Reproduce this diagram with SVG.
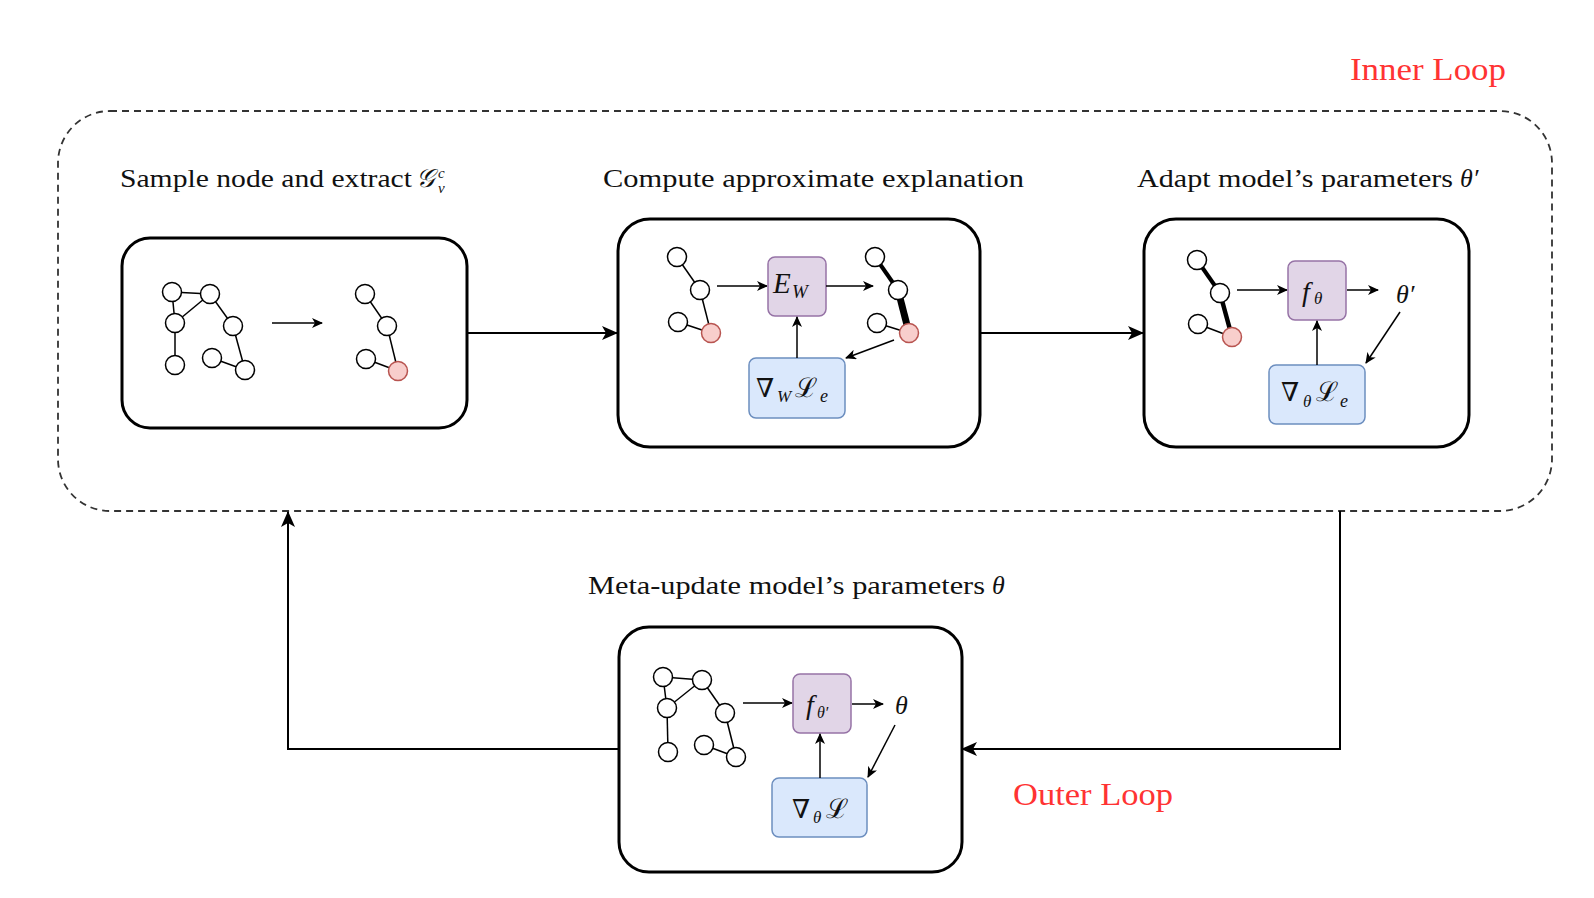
<svg xmlns="http://www.w3.org/2000/svg" width="1594" height="898" viewBox="0 0 1594 898">
<style>
.title{font-family:"Liberation Serif","DejaVu Serif",serif;font-size:25px;fill:#111}
.math{font-family:"Liberation Serif","DejaVu Serif",serif;font-style:italic;fill:#111}
.sym{font-family:"DejaVu Serif","Liberation Serif",serif;fill:#111}
.loop{font-family:"Liberation Serif","DejaVu Serif",serif;font-size:32px;fill:#ff3333}
.panel{fill:#fff;stroke:#000;stroke-width:3}
.gn{fill:#fff;stroke:#000;stroke-width:1.5}
.rn{fill:#f8cecc;stroke:#b85450;stroke-width:1.5}
.ge{stroke:#000;stroke-width:1.5;fill:none}
.purple{fill:#e1d5e7;stroke:#9673a6;stroke-width:1.5}
.blue{fill:#dae8fc;stroke:#6c8ebf;stroke-width:1.5}
.conn{stroke:#000;stroke-width:2;fill:none}
.arr{stroke:#000;stroke-width:1.5;fill:none}
</style>
<defs>
<marker id="big" viewBox="0 0 16 14" refX="15" refY="7" markerWidth="16" markerHeight="14" markerUnits="userSpaceOnUse" orient="auto">
<path d="M0,0 L16,7 L0,14 L4,7 z" fill="#000"/>
</marker>
<marker id="small" viewBox="0 0 11 10" refX="10" refY="5" markerWidth="11" markerHeight="10" markerUnits="userSpaceOnUse" orient="auto">
<path d="M0,0 L11,5 L0,10 L3,5 z" fill="#000"/>
</marker>
</defs>
<rect width="1594" height="898" fill="#fff"/>

<g id="inner-loop">
<rect x="58" y="111" width="1494" height="400" rx="52" ry="52" fill="none" stroke="#333" stroke-width="1.8" stroke-dasharray="7 5"/>
<text class="loop" x="1350" y="80" textLength="156" lengthAdjust="spacingAndGlyphs">Inner Loop</text>
</g>

<g id="connectors">
<line class="conn" x1="467" y1="333" x2="617" y2="333" marker-end="url(#big)"/>
<line class="conn" x1="980" y1="333" x2="1143" y2="333" marker-end="url(#big)"/>
<polyline class="conn" points="1340,511 1340,749 962,749" marker-end="url(#big)"/>
<polyline class="conn" points="619,749 288,749 288,512" marker-end="url(#big)"/>
</g>

<g id="sample-node">
<text class="title" x="120" y="187" textLength="292" lengthAdjust="spacingAndGlyphs">Sample node and extract</text>
<text class="math" x="416" y="187" font-size="26">𝒢</text>
<text class="math" x="438" y="178" font-size="15">c</text>
<text class="math" x="438" y="193" font-size="15">v</text>
<rect class="panel" x="122" y="238" width="345" height="190" rx="28"/>
<g>
<line class="ge" x1="172" y1="292" x2="210" y2="294"/>
<line class="ge" x1="172" y1="292" x2="175" y2="323"/>
<line class="ge" x1="175" y1="323" x2="210" y2="294"/>
<line class="ge" x1="210" y1="294" x2="233" y2="326"/>
<line class="ge" x1="175" y1="323" x2="175" y2="365"/>
<line class="ge" x1="233" y1="326" x2="245" y2="370"/>
<line class="ge" x1="212" y1="358" x2="245" y2="370"/>
<circle class="gn" cx="172" cy="292" r="9.5"/>
<circle class="gn" cx="210" cy="294" r="9.5"/>
<circle class="gn" cx="175" cy="323" r="9.5"/>
<circle class="gn" cx="233" cy="326" r="9.5"/>
<circle class="gn" cx="175" cy="365" r="9.5"/>
<circle class="gn" cx="212" cy="358" r="9.5"/>
<circle class="gn" cx="245" cy="370" r="9.5"/>
</g>
<line class="arr" x1="272" y1="323" x2="322" y2="323" marker-end="url(#small)"/>
<g>
<line class="ge" x1="365" y1="294" x2="387" y2="326"/>
<line class="ge" x1="387" y1="326" x2="398" y2="371"/>
<line class="ge" x1="366" y1="359" x2="398" y2="371"/>
<circle class="gn" cx="365" cy="294" r="9.5"/>
<circle class="gn" cx="387" cy="326" r="9.5"/>
<circle class="gn" cx="366" cy="359" r="9.5"/>
<circle class="rn" cx="398" cy="371" r="9.5"/>
</g>
</g>

<g id="compute-explanation">
<text class="title" x="603" y="187" textLength="421" lengthAdjust="spacingAndGlyphs">Compute approximate explanation</text>
<rect class="panel" x="618" y="219" width="362" height="228" rx="32"/>
<g>
<line class="ge" x1="677" y1="257" x2="700" y2="290"/>
<line class="ge" x1="700" y1="290" x2="711" y2="333"/>
<line class="ge" x1="678" y1="322" x2="711" y2="333"/>
<circle class="gn" cx="677" cy="257" r="9.5"/>
<circle class="gn" cx="700" cy="290" r="9.5"/>
<circle class="gn" cx="678" cy="322" r="9.5"/>
<circle class="rn" cx="711" cy="333" r="9.5"/>
</g>
<line class="arr" x1="717" y1="286" x2="767" y2="286" marker-end="url(#small)"/>
<rect class="purple" x="768" y="257" width="58" height="59" rx="7"/>
<text class="math" x="773" y="293" font-size="29">E</text>
<text class="math" x="792" y="298" font-size="19">W</text>
<line class="arr" x1="826" y1="286" x2="873" y2="286" marker-end="url(#small)"/>
<g>
<line class="ge" x1="875" y1="257" x2="898" y2="290" style="stroke-width:4"/>
<line class="ge" x1="898" y1="290" x2="909" y2="333" style="stroke-width:7"/>
<line class="ge" x1="877" y1="323" x2="909" y2="333"/>
<circle class="gn" cx="875" cy="257" r="9.5"/>
<circle class="gn" cx="898" cy="290" r="9.5"/>
<circle class="gn" cx="877" cy="323" r="9.5"/>
<circle class="rn" cx="909" cy="333" r="9.5"/>
</g>
<line class="arr" x1="894" y1="340" x2="846" y2="358" marker-end="url(#small)"/>
<rect class="blue" x="749" y="358" width="96" height="60" rx="7"/>
<text class="sym" x="756" y="397" font-size="26">∇</text>
<text class="math" x="777" y="402" font-size="17">W</text>
<text class="sym" x="795" y="397" font-size="27">ℒ</text>
<text class="math" x="820" y="402" font-size="18">e</text>
<line class="arr" x1="797" y1="358" x2="797" y2="317" marker-end="url(#small)"/>
</g>

<g id="adapt-parameters">
<text class="title" x="1137" y="187" textLength="316" lengthAdjust="spacingAndGlyphs">Adapt model’s parameters</text>
<text class="math" x="1460" y="187" font-size="26">θ′</text>
<rect class="panel" x="1144" y="219" width="325" height="228" rx="32"/>
<g>
<line class="ge" x1="1197" y1="260" x2="1220" y2="293" style="stroke-width:4"/>
<line class="ge" x1="1220" y1="293" x2="1232" y2="337" style="stroke-width:4.5"/>
<line class="ge" x1="1198" y1="324" x2="1232" y2="337"/>
<circle class="gn" cx="1197" cy="260" r="9.5"/>
<circle class="gn" cx="1220" cy="293" r="9.5"/>
<circle class="gn" cx="1198" cy="324" r="9.5"/>
<circle class="rn" cx="1232" cy="337" r="9.5"/>
</g>
<line class="arr" x1="1237" y1="290" x2="1287" y2="290" marker-end="url(#small)"/>
<rect class="purple" x="1288" y="261" width="58" height="59" rx="7"/>
<text class="math" x="1302" y="301" font-size="28">f</text>
<text class="math" x="1314" y="304" font-size="17">θ</text>
<line class="arr" x1="1347" y1="290" x2="1378" y2="290" marker-end="url(#small)"/>
<text class="math" x="1396" y="303" font-size="26">θ′</text>
<line class="arr" x1="1400" y1="312" x2="1366" y2="363" marker-end="url(#small)"/>
<rect class="blue" x="1269" y="365" width="96" height="59" rx="7"/>
<text class="sym" x="1281" y="401" font-size="26">∇</text>
<text class="math" x="1303" y="407" font-size="17">θ</text>
<text class="sym" x="1316" y="401" font-size="27">ℒ</text>
<text class="math" x="1340" y="407" font-size="18">e</text>
<line class="arr" x1="1317" y1="365" x2="1317" y2="321" marker-end="url(#small)"/>
</g>

<g id="meta-update">
<text class="title" x="588" y="594" textLength="397" lengthAdjust="spacingAndGlyphs">Meta-update model’s parameters</text>
<text class="math" x="992" y="594" font-size="26">θ</text>
<rect class="panel" x="619" y="627" width="343" height="245" rx="30"/>
<g>
<line class="ge" x1="663" y1="677" x2="702" y2="680"/>
<line class="ge" x1="663" y1="677" x2="667" y2="708"/>
<line class="ge" x1="667" y1="708" x2="702" y2="680"/>
<line class="ge" x1="702" y1="680" x2="725" y2="713"/>
<line class="ge" x1="667" y1="708" x2="668" y2="752"/>
<line class="ge" x1="725" y1="713" x2="736" y2="757"/>
<line class="ge" x1="704" y1="745" x2="736" y2="757"/>
<circle class="gn" cx="663" cy="677" r="9.5"/>
<circle class="gn" cx="702" cy="680" r="9.5"/>
<circle class="gn" cx="667" cy="708" r="9.5"/>
<circle class="gn" cx="725" cy="713" r="9.5"/>
<circle class="gn" cx="668" cy="752" r="9.5"/>
<circle class="gn" cx="704" cy="745" r="9.5"/>
<circle class="gn" cx="736" cy="757" r="9.5"/>
</g>
<line class="arr" x1="743" y1="703" x2="792" y2="703" marker-end="url(#small)"/>
<rect class="purple" x="793" y="674" width="58" height="59" rx="7"/>
<text class="math" x="806" y="714" font-size="28">f</text>
<text class="math" x="817" y="718" font-size="16">θ′</text>
<line class="arr" x1="852" y1="704" x2="883" y2="704" marker-end="url(#small)"/>
<text class="math" x="895" y="714" font-size="26">θ</text>
<line class="arr" x1="895" y1="725" x2="868" y2="777" marker-end="url(#small)"/>
<rect class="blue" x="772" y="778" width="95" height="59" rx="7"/>
<text class="sym" x="792" y="818" font-size="26">∇</text>
<text class="math" x="813" y="823" font-size="17">θ</text>
<text class="sym" x="826" y="818" font-size="27">ℒ</text>
<line class="arr" x1="820" y1="778" x2="820" y2="734" marker-end="url(#small)"/>
</g>

<g id="outer-loop-label">
<text class="loop" x="1013" y="805" textLength="160" lengthAdjust="spacingAndGlyphs">Outer Loop</text>
</g>
</svg>
